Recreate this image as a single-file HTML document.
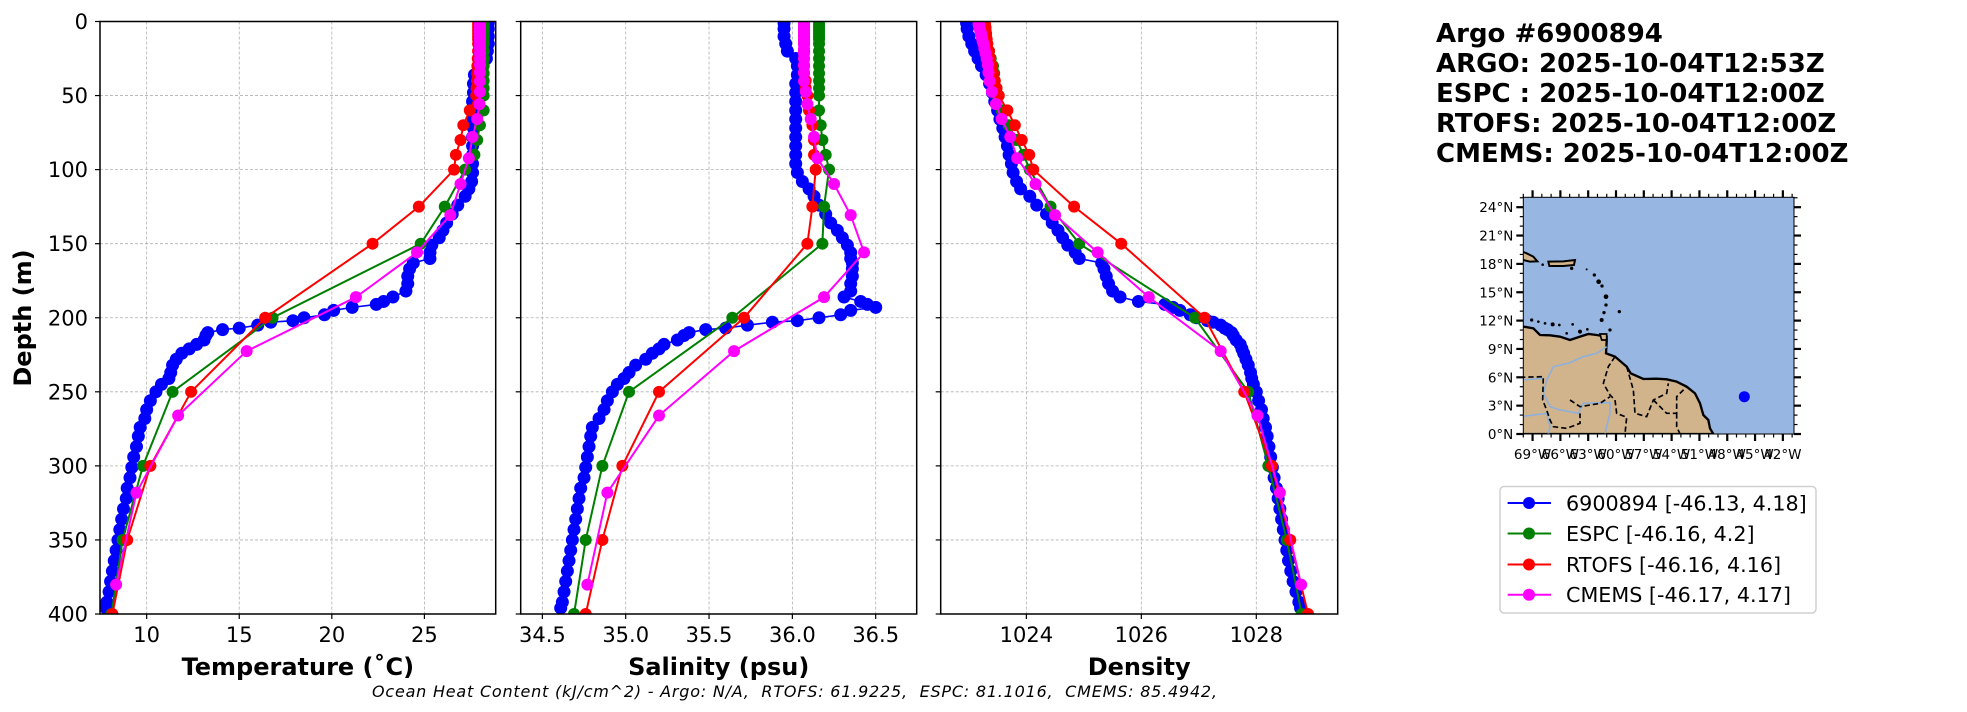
<!DOCTYPE html>
<html><head><meta charset="utf-8"><style>
html,body{margin:0;padding:0;background:#fff;}
svg{display:block;font-family:"DejaVu Sans","Liberation Sans",sans-serif;}
</style></head><body>
<svg id="fig" width="1967" height="712" viewBox="0 0 1967 712" xmlns="http://www.w3.org/2000/svg">
<rect x="0" y="0" width="1967" height="712" fill="#fff"/>
<g id="panels"></g>
<g id="titles" font-weight="bold" font-size="26" fill="#000">
<text x="1436" y="42">Argo #6900894</text>
<text x="1436" y="72">ARGO: 2025-10-04T12:53Z</text>
<text x="1436" y="102">ESPC : 2025-10-04T12:00Z</text>
<text x="1436" y="132">RTOFS: 2025-10-04T12:00Z</text>
<text x="1436" y="162">CMEMS: 2025-10-04T12:00Z</text>
</g>
<g id="map">
<clipPath id="mapclip"><rect x="1523.3" y="197.3" width="270.7" height="236.7"/></clipPath>
<rect x="1523.3" y="197.3" width="270.7" height="236.7" fill="#97b6e1"/>
<g clip-path="url(#mapclip)">
<g transform="translate(1500,180) scale(0.33333)">
<path fill="#d2b48c" stroke="#000" stroke-width="7" d="M60,438 L100,445 L120,465 L150,466 L180,470 L210,480 L240,470 L265,462 L290,465 L320,470 L320,485 L318,520 L345,530 L380,560 L392,580 L430,597 L470,596 L500,598 L530,605 L560,620 L585,640 L600,670 L610,705 L625,720 L630,745 L640,762 L60,762 Z"/>
<path fill="#d2b48c" stroke="#000" stroke-width="6" d="M60,212 L80,220 L100,230 L112,244 L90,245 L70,240 L60,238 Z"/>
<path fill="#d2b48c" stroke="#000" stroke-width="6" d="M145,245 L190,244 L225,240 L222,255 L190,258 L148,258 Z"/>
<path fill="#d2b48c" stroke="#000" stroke-width="5" d="M300,462 L320,462 L320,480 L305,480 Z"/>
<g fill="#000">
<circle cx="128" cy="254" r="4"/><circle cx="215" cy="265" r="5"/><circle cx="260" cy="268" r="3"/><circle cx="283" cy="285" r="5"/><circle cx="296" cy="305" r="7"/><circle cx="306" cy="318" r="5"/><circle cx="318" cy="350" r="7"/><circle cx="318" cy="375" r="5"/><circle cx="312" cy="398" r="5"/><circle cx="305" cy="420" r="6"/><circle cx="358" cy="395" r="5"/><circle cx="95" cy="420" r="5"/><circle cx="115" cy="425" r="4"/><circle cx="135" cy="430" r="4"/><circle cx="158" cy="433" r="6"/><circle cx="178" cy="435" r="4"/><circle cx="218" cy="433" r="4"/><circle cx="262" cy="448" r="4"/><circle cx="330" cy="450" r="5"/><circle cx="240" cy="455" r="6"/><circle cx="200" cy="460" r="4"/>
</g>
<g fill="none" stroke="#8fb0d8" stroke-width="5">
<path d="M320,500 L290,520 L250,530 L210,548 L160,560 L140,600 L130,640 L150,680 L180,690 L235,700 L250,670 L330,668 L330,700 L315,760"/>
<path d="M60,600 L130,595"/><path d="M60,710 L140,700 L150,740 L145,762"/>
</g>
<g fill="none" stroke="#000" stroke-width="5" stroke-dasharray="16,9">
<path d="M345,530 L325,560 L310,610 L330,645 L345,660 L350,700 L380,712 L375,762"/>
<path d="M380,560 L400,630 L405,700 L440,710 L460,660 L500,640 L505,610"/>
<path d="M460,660 L500,700 L530,700 L530,650 L560,620"/>
<path d="M60,592 L130,590 L128,660 L140,690 L150,720 L160,740 L200,745 L240,730 L240,700"/>
<path d="M210,660 L240,680 L300,670 L330,650"/>
<path d="M530,700 L530,740 L540,762"/>
</g>
</g>
</g>
<circle cx="1744.3" cy="396.7" r="5.5" fill="#0000ff"/>
<rect x="1523.3" y="197.3" width="270.7" height="236.7" fill="none" stroke="#000" stroke-width="1"/>
<g id="mapticks"></g>
</g>
<g id="legend">
<rect x="1500" y="486.5" width="316" height="126.5" rx="4" fill="#fff" stroke="#d0d0d0" stroke-width="1.5"/>
</g>
<text x="372" y="697" font-size="16" font-style="italic" style="white-space:pre" textLength="845">Ocean Heat Content (kJ/cm^2) - Argo: N/A,  RTOFS: 61.9225,  ESPC: 81.1016,  CMEMS: 85.4942,</text>
</svg>
<script>
// ---- data ----
const argoDepth=[1,5,10,15,20,25,30,36,42,48,54,60,66,72,78,84,90,96,102,108,113,118,124,130,136,141,146,151,156,160,163,167,172,177,182,186,189,191,193,195,198,200,202,203,205,207,208,210,212,215,218,221,224,228,232,237,241,245,250,256,262,268,274,280,287,294,301,308,315,322,329,336,343,350,357,364,371,378,385,392,396];
const argoTemp=[28.45,28.45,28.45,28.45,28.4,28.35,28.0,27.7,27.65,27.65,27.6,27.6,27.65,27.65,27.6,27.6,27.6,27.6,27.6,27.55,27.4,27.2,26.8,26.5,26.2,26.0,25.8,25.4,25.3,25.3,24.4,24.2,24.1,24.1,24.0,23.3,22.8,22.4,21.1,20.1,19.6,18.5,17.9,16.7,16.0,15.0,14.1,13.3,13.2,13.1,12.7,12.3,11.9,11.6,11.4,11.3,11.2,10.8,10.5,10.2,10.0,9.9,9.65,9.55,9.45,9.3,9.2,9.1,8.95,8.9,8.75,8.65,8.55,8.45,8.35,8.25,8.15,8.05,7.97,7.85,7.8];
const argoSal=[35.95,35.95,35.95,35.96,35.97,36.02,36.03,36.03,36.02,36.02,36.02,36.02,36.02,36.02,36.02,36.02,36.02,36.02,36.03,36.06,36.1,36.13,36.16,36.2,36.23,36.27,36.3,36.33,36.35,36.35,36.36,36.36,36.36,36.35,36.35,36.31,36.41,36.45,36.5,36.35,36.29,36.16,36.03,35.88,35.73,35.6,35.48,35.38,35.35,35.31,35.23,35.2,35.16,35.12,35.06,35.02,34.99,34.95,34.92,34.89,34.87,34.84,34.8,34.79,34.78,34.77,34.76,34.75,34.73,34.72,34.71,34.7,34.69,34.68,34.67,34.66,34.65,34.64,34.63,34.62,34.61];
const argoDens=[1022.96,1022.97,1023.0,1023.05,1023.1,1023.16,1023.22,1023.3,1023.36,1023.41,1023.45,1023.5,1023.54,1023.59,1023.63,1023.67,1023.7,1023.74,1023.77,1023.83,1023.9,1024.06,1024.18,1024.35,1024.45,1024.55,1024.63,1024.72,1024.85,1024.92,1025.31,1025.35,1025.39,1025.43,1025.5,1025.63,1025.95,1026.41,1026.55,1026.67,1026.85,1026.96,1027.15,1027.25,1027.38,1027.45,1027.5,1027.57,1027.6,1027.65,1027.72,1027.75,1027.78,1027.82,1027.86,1027.9,1027.92,1027.95,1028.0,1028.04,1028.09,1028.12,1028.16,1028.19,1028.22,1028.25,1028.28,1028.31,1028.35,1028.38,1028.41,1028.44,1028.47,1028.5,1028.53,1028.56,1028.6,1028.64,1028.69,1028.74,1028.77];

const modelDepth=[0,2,4,6,8,10,12,15,20,25,30,35,40,45,50,60,70,80,90,100,125,150,200,250,300,350,400];
const espcTemp=[28.2,28.2,28.2,28.2,28.2,28.2,28.2,28.2,28.2,28.2,28.2,28.2,28.2,28.2,28.2,28.2,28.0,27.85,27.7,27.2,26.1,24.8,16.8,11.4,9.8,8.7,8.1];
const espcSal=[36.16,36.16,36.16,36.16,36.16,36.16,36.16,36.16,36.16,36.16,36.16,36.16,36.16,36.16,36.16,36.16,36.17,36.18,36.2,36.22,36.19,36.18,35.64,35.02,34.86,34.76,34.69];
const espcDens=[1023.2,1023.21,1023.22,1023.24,1023.26,1023.28,1023.3,1023.32,1023.35,1023.38,1023.42,1023.44,1023.45,1023.48,1023.5,1023.57,1023.69,1023.83,1023.95,1024.06,1024.42,1024.92,1026.93,1027.86,1028.21,1028.53,1028.79];
const rtofsTemp=[27.9,27.9,27.9,27.9,27.9,27.9,27.9,27.9,27.9,27.88,27.86,27.85,27.84,27.82,27.8,27.45,27.1,26.95,26.7,26.6,24.7,22.2,16.4,12.4,10.2,8.95,8.15];
const rtofsSal=[36.07,36.07,36.07,36.07,36.07,36.07,36.07,36.07,36.07,36.07,36.07,36.07,36.08,36.08,36.09,36.1,36.12,36.13,36.13,36.14,36.12,36.09,35.71,35.2,34.98,34.86,34.76];
const rtofsDens=[1023.28,1023.28,1023.29,1023.29,1023.3,1023.3,1023.31,1023.32,1023.35,1023.37,1023.4,1023.42,1023.45,1023.48,1023.52,1023.67,1023.8,1023.92,1024.05,1024.12,1024.83,1025.65,1027.1,1027.79,1028.27,1028.59,1028.9];
const cmemsDepth=[0.5,1.5,2.6,3.8,5,6.4,7.9,9.6,11.4,13.5,15.8,18.5,21.6,25.2,29.4,34.4,40.3,47.4,55.8,65.8,77.9,92.3,109.7,130.7,155.9,186.1,222.5,266,318.1,380.2];
const cmemsTemp=[28.0,28.0,28.0,28.0,28.0,28.0,28.0,28.0,28.0,28.0,28.0,28.0,28.0,28.0,28.0,28.0,28.0,28.0,27.97,27.85,27.6,27.4,26.95,26.4,24.6,21.3,15.4,11.7,9.45,8.35];
const cmemsSal=[36.07,36.07,36.07,36.07,36.07,36.07,36.07,36.07,36.07,36.07,36.07,36.07,36.07,36.07,36.07,36.07,36.07,36.08,36.09,36.11,36.13,36.15,36.25,36.35,36.43,36.19,35.65,35.2,34.89,34.77];
const cmemsDens=[1023.17,1023.17,1023.18,1023.18,1023.19,1023.2,1023.21,1023.22,1023.23,1023.24,1023.26,1023.27,1023.29,1023.31,1023.33,1023.34,1023.36,1023.4,1023.47,1023.57,1023.72,1023.84,1024.16,1024.5,1025.24,1026.13,1027.38,1028.02,1028.41,1028.78];

const depthTicks=[0,50,100,150,200,250,300,350,400];
const tempTicks=[10,15,20,25];
const salTicks=[34.5,35.0,35.5,36.0,36.5];
const salTickLabels=["34.5","35.0","35.5","36.0","36.5"];
const densTicks=[1024,1026,1028];
const latTicks=[0,3,6,9,12,15,18,21,24];
const lonTicks=[-69,-66,-63,-60,-57,-54,-51,-48,-45,-42];
const legendLabels=["6900894 [-46.13, 4.18]","ESPC [-46.16, 4.2]","RTOFS [-46.16, 4.16]","CMEMS [-46.17, 4.17]"];
const seriesColors=["#0000ff","#008000","#ff0000","#ff00ff"];

// ---- drawing ----
const NS="http://www.w3.org/2000/svg";
function mk(tag,attrs,parent){const e=document.createElementNS(NS,tag);for(const k in attrs)e.setAttribute(k,attrs[k]);parent.appendChild(e);return e;}
const Y0=21.5,Y1=614;
function yScale(d){return Y0+(d/400)*(Y1-Y0);}
const panels=[
 {key:"temperature",x0:100,x1:495.7,min:7.48,max:28.85,ticks:tempTicks,labels:tempTicks.map(String),title:"Temperature (˚C)",
  series:[[argoDepth,argoTemp],[modelDepth,espcTemp],[modelDepth,rtofsTemp],[cmemsDepth,cmemsTemp]],ylabels:true},
 {key:"salinity",x0:520.7,x1:916.7,min:34.37,max:36.746,ticks:salTicks,labels:salTickLabels,title:"Salinity (psu)",
  series:[[argoDepth,argoSal],[modelDepth,espcSal],[modelDepth,rtofsSal],[cmemsDepth,cmemsSal]],ylabels:false},
 {key:"density",x0:940.7,x1:1337.7,min:1022.51,max:1029.416,ticks:densTicks,labels:densTicks.map(String),title:"Density",
  series:[[argoDepth,argoDens],[modelDepth,espcDens],[modelDepth,rtofsDens],[cmemsDepth,cmemsDens]],ylabels:false}
];
const seriesNames=["argo","espc","rtofs","cmems"];
const root=document.getElementById("panels");
panels.forEach(p=>{
 const xs=v=>p.x0+(v-p.min)/(p.max-p.min)*(p.x1-p.x0);
 const g=mk("g",{},root);
 
 
 const cp=mk("clipPath",{id:"clip-"+p.key},g);
 mk("rect",{x:p.x0,y:Y0,width:p.x1-p.x0,height:Y1-Y0},cp);
 p.ticks.forEach(t=>{
  const l=mk("line",{x1:xs(t),x2:xs(t),y1:Y0,y2:Y1,stroke:"#b0b0b0","stroke-width":0.8,"stroke-dasharray":"3,2"},g);
  
  
 });
 depthTicks.forEach(d=>{
  const l=mk("line",{x1:p.x0,x2:p.x1,y1:yScale(d),y2:yScale(d),stroke:"#b0b0b0","stroke-width":0.8,"stroke-dasharray":"3,2"},g);
  
  
 });
 const sg=mk("g",{"clip-path":"url(#clip-"+p.key+")"},g);
 p.series.forEach((s,i)=>{
  const [dep,val]=s;
  const pts=dep.map((d,j)=>xs(val[j]).toFixed(2)+","+yScale(d).toFixed(2)).join(" ");
  const ln=mk("polyline",{points:pts,fill:"none",stroke:seriesColors[i],"stroke-width":i===0?1.6:2},sg);
  
  
  dep.forEach((d,j)=>{
   const c=mk("circle",{cx:xs(val[j]),cy:yScale(d),r:i===0?6.5:6,fill:seriesColors[i]},sg);
   
   
  });
 });
 const fr=mk("rect",{x:p.x0,y:Y0,width:p.x1-p.x0,height:Y1-Y0,fill:"none",stroke:"#000","stroke-width":1.5},g);
 
 
 p.ticks.forEach((t,i)=>{
  mk("line",{x1:xs(t),x2:xs(t),y1:Y1,y2:Y1+5,stroke:"#000","stroke-width":1.2},g);
  const tx=mk("text",{x:xs(t),y:Y1+28,"font-size":21,"text-anchor":"middle"},g);
  tx.textContent=p.labels[i];
  
  
 });
 depthTicks.forEach(d=>{
  mk("line",{x1:p.x0-5,x2:p.x0,y1:yScale(d),y2:yScale(d),stroke:"#000","stroke-width":1.2},g);
  if(p.ylabels){
   const tx=mk("text",{x:p.x0-12,y:yScale(d)+7.5,"font-size":21,"text-anchor":"end"},g);
   tx.textContent=String(d);
   
   
  }
 });
 const xt=mk("text",{x:(p.x0+p.x1)/2,y:675,"font-size":24,"font-weight":"bold","text-anchor":"middle"},g);
 xt.textContent=p.title;
 
 
});
const yt=mk("text",{x:0,y:0,"font-size":24,"font-weight":"bold","text-anchor":"middle",transform:"translate(31,318) rotate(-90)"},root);
yt.textContent="Depth (m)";



const mt=document.getElementById("mapticks");
const MX0=1523.3,MX1=1794,MY0=197.3,MY1=434;
const lonX=lon=>MX0+(lon+70)*9.27;
const latY=lat=>MY1-lat*9.45;
for(let lat=0;lat<=25;lat++){
 const major=lat%3===0,len=major?7:3.5,w=major?2.2:1.2;
 mk("line",{x1:MX0-len,x2:MX0,y1:latY(lat),y2:latY(lat),stroke:"#000","stroke-width":w},mt);
 mk("line",{x1:MX1,x2:MX1+len,y1:latY(lat),y2:latY(lat),stroke:"#000","stroke-width":w},mt);
}
for(let lon=-70;lon<=-41;lon++){
 const major=lon%3===0,len=major?7:3.5,w=major?2.2:1.2;
 mk("line",{x1:lonX(lon),x2:lonX(lon),y1:MY1,y2:MY1+len,stroke:"#000","stroke-width":w},mt);
 mk("line",{x1:lonX(lon),x2:lonX(lon),y1:MY0-len,y2:MY0,stroke:"#000","stroke-width":w},mt);
}
latTicks.forEach(lat=>{
 const t=mk("text",{x:MX0-10,y:latY(lat)+5,"font-size":13.5,"text-anchor":"end"},mt);
 t.textContent=lat+"°N";
 
 
});
lonTicks.forEach(lon=>{
 const t=mk("text",{x:lonX(lon),y:MY1+25,"font-size":13.5,"text-anchor":"middle"},mt);
 t.textContent=(-lon)+"°W";
 
 
});

const lg=document.getElementById("legend");
const ly=[503,533.5,564.5,594.7];
legendLabels.forEach((lab,i)=>{
 const e=mk("g",{},lg);
 
 
 mk("line",{x1:1507.6,x2:1551,y1:ly[i],y2:ly[i],stroke:seriesColors[i],"stroke-width":2},e);
 mk("circle",{cx:1529,cy:ly[i],r:6,fill:seriesColors[i]},e);
 const t=mk("text",{x:1566,y:ly[i]+7.5,"font-size":20.7},e);
 t.textContent=lab;
});
</script>
</body></html>
